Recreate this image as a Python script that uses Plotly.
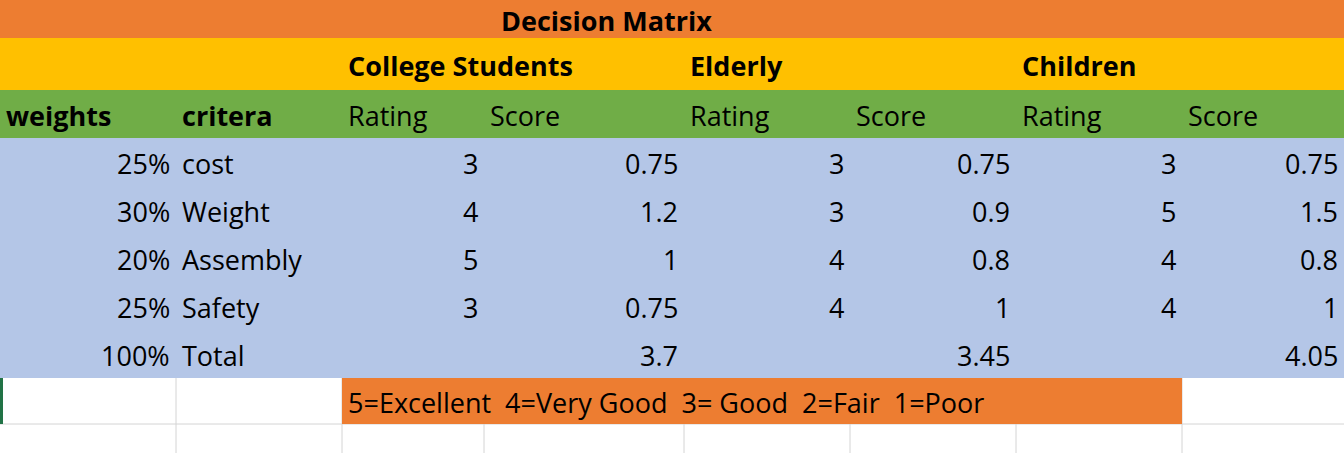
import plotly.graph_objects as go

title = "Decision Matrix"
groups = ["College Students", "Elderly", "Children"]
weights = ["25%", "30%", "20%", "25%", "100%"]
criteria = ["cost", "Weight", "Assembly", "Safety", "Total"]
ratings = {"College Students": [3, 4, 5, 3], "Elderly": [3, 3, 4, 4], "Children": [3, 5, 4, 4]}
scores = {"College Students": ["0.75", "1.2", "1", "0.75"], "Elderly": ["0.75", "0.9", "0.8", "1"], "Children": ["0.75", "1.5", "0.8", "1"]}
totals = {"College Students": "3.7", "Elderly": "3.45", "Children": "4.05"}
legend_text = "5=Excellent  4=Very Good  3= Good  2=Fair  1=Poor"

W, H = 1344, 453
cols = [0, 176, 342, 484, 684, 850, 1016, 1182, 1344]
rows = [0, 38, 90, 138, 186, 234, 282, 330, 378, 424, 453]
ORANGE, YELLOW, GREEN, BLUE = "#ED7D31", "#FFC000", "#70AD47", "#B4C6E7"
FONT = "Open Sans"
FS = 27

fig = go.Figure()
shapes = []
def rect(x0, y0, x1, y1, color):
    shapes.append(dict(type="rect", xref="x", yref="y", x0=x0, x1=x1, y0=y0, y1=y1,
                       fillcolor=color, line=dict(width=0), layer="below"))
def line(x0, y0, x1, y1, color="#D4D4D4", w=1, layer="below"):
    shapes.append(dict(type="line", xref="x", yref="y", x0=x0, x1=x1, y0=y0, y1=y1,
                       line=dict(color=color, width=w), layer=layer))

for c in cols[1:-1]:
    line(c, rows[8], c, H)
line(0, rows[9], W, rows[9])
rect(0, rows[0], W, rows[1], ORANGE)
rect(0, rows[1], W, rows[2], YELLOW)
rect(0, rows[2], W, rows[3], GREEN)
rect(0, rows[3], W, rows[8], BLUE)
rect(cols[2], rows[8], cols[7], rows[9], ORANGE)
line(1.5, rows[8], 1.5, rows[9], "#217346", 3, "above")

ann = []
def txt(x, y, s, anchor="left", bold=False):
    ann.append(dict(x=x, y=y, xref="x", yref="y", text=f"<b>{s}</b>" if bold else str(s),
                    showarrow=False, xanchor=anchor, yanchor="middle",
                    font=dict(family=FONT, size=FS, color="black")))
def mid(i):
    return (rows[i] + rows[i + 1]) / 2 + 1

txt(606, mid(0), title, "center", True)
gstarts = [cols[2], cols[4], cols[6]]
for g, x in zip(groups, gstarts):
    txt(x + 4, mid(1), g, bold=True)
txt(4, mid(2), "weights", bold=True)
txt(cols[1] + 4, mid(2), "critera", bold=True)
hdr = [(cols[2], "Rating"), (cols[3], "Score"), (cols[4], "Rating"), (cols[5], "Score"), (cols[6], "Rating"), (cols[7], "Score")]
for x, s in hdr:
    txt(x + 4, mid(2), s)
for i in range(5):
    r = 3 + i
    txt(cols[1] - 4, mid(r), weights[i], "right")
    txt(cols[1] + 4, mid(r), criteria[i])
for gi, g in enumerate(groups):
    rc, sc = cols[3 + 2 * gi], cols[4 + 2 * gi]
    for i in range(4):
        txt(rc - 4, mid(3 + i), ratings[g][i], "right")
        txt(sc - 4, mid(3 + i), scores[g][i], "right")
    txt(sc - 4, mid(7), totals[g], "right")
txt(cols[2] + 4, mid(8), legend_text)

fig.update_layout(width=W, height=H, margin=dict(l=0, r=0, t=0, b=0),
                  plot_bgcolor="white", paper_bgcolor="white",
                  shapes=shapes, annotations=ann, showlegend=False,
                  xaxis=dict(range=[0, W], visible=False, fixedrange=True),
                  yaxis=dict(range=[H, 0], visible=False, fixedrange=True))
fig.write_html("out.html", config={"displayModeBar": False},
               post_script="document.body.style.margin='0';document.body.style.overflow='hidden';")
